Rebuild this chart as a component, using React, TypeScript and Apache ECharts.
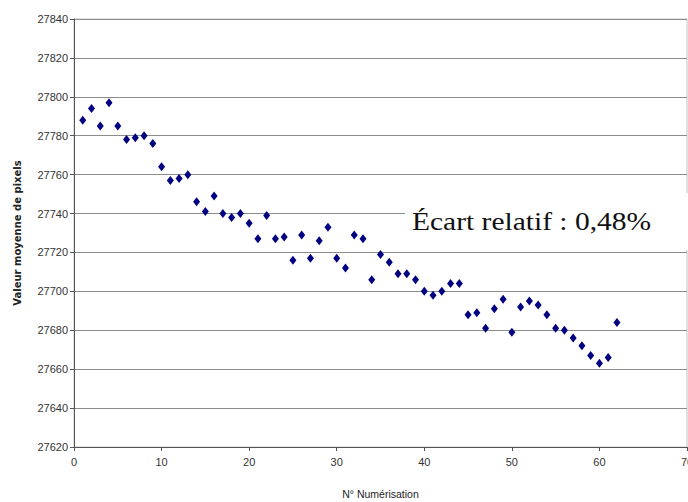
import React, { useEffect, useRef } from "react";
import * as echarts from "echarts";

const scanNumbers: number[] = Array.from({ length: 62 }, (_, i) => i + 1);
const meanValues: number[] = [
  27788, 27794, 27785, 27797, 27785, 27778, 27779, 27780, 27776, 27764,
  27757, 27758, 27760, 27746, 27741, 27749, 27740, 27738, 27740, 27735,
  27727, 27739, 27727, 27728, 27716, 27729, 27717, 27726, 27733, 27717,
  27712, 27729, 27727, 27706, 27719, 27715, 27709, 27709, 27706, 27700,
  27698, 27700, 27704, 27704, 27688, 27689, 27681, 27691, 27696, 27679,
  27692, 27695, 27693, 27688, 27681, 27680, 27676, 27672, 27667, 27663,
  27666, 27684,
];
const yTitle = "Valeur moyenne de pixels";
const xTitle = "N° Numérisation";
const note = "Écart relatif : 0,48%";

export default function App() {
  const ref = useRef<HTMLDivElement>(null);
  useEffect(() => {
    document.body.style.margin = "0";
    if (!ref.current) return;
    const chart = echarts.init(ref.current, undefined, { renderer: "svg" });
    const points = scanNumbers.map((n, i) => [n, meanValues[i]]);
    chart.setOption({
      animation: false,
      backgroundColor: "#ffffff",
      grid: {
        left: 74,
        right: 1,
        top: 19,
        bottom: 55,
        show: true,
        borderColor: "#c4c4c4",
        borderWidth: 1,
        containLabel: false,
        outerBoundsMode: "none",
      },
      xAxis: {
        type: "value",
        min: 0,
        max: 70,
        interval: 10,
        name: xTitle,
        nameLocation: "middle",
        nameGap: 41,
        nameTextStyle: { fontFamily: "Liberation Sans", fontSize: 10.5, color: "#222" },
        axisLine: { show: true, onZero: false, lineStyle: { color: "#555", width: 1 } },
        axisTick: { show: true, length: 4, lineStyle: { color: "#555" } },
        axisLabel: { fontFamily: "Liberation Sans", fontSize: 11, color: "#333", margin: 9 },
        splitLine: { show: false },
      },
      yAxis: {
        type: "value",
        min: 27620,
        max: 27840,
        interval: 20,
        name: yTitle,
        nameLocation: "middle",
        nameGap: 52,
        nameTextStyle: {
          fontFamily: "DejaVu Sans",
          fontWeight: "bold",
          fontSize: 10,
          color: "#222",
        },
        axisLine: { show: true, lineStyle: { color: "#555", width: 1 } },
        axisTick: { show: true, length: 4, lineStyle: { color: "#555" } },
        axisLabel: {
          fontFamily: "Liberation Sans",
          fontSize: 11,
          color: "#333",
          margin: 6,
          formatter: (v: number) => String(v),
        },
        splitLine: { show: true, lineStyle: { color: "#8c8c8c", width: 1 } },
      },
      series: [
        {
          type: "scatter",
          data: points,
          symbol: "diamond",
          symbolSize: [7, 9],
          itemStyle: { color: "#000080", opacity: 1 },
        },
      ],
      graphic: [
        {
          type: "rect",
          z: 100,
          shape: { x: 405, y: 193, width: 283, height: 57 },
          style: { fill: "#ffffff" },
        },
        {
          type: "text",
          z: 101,
          x: 412,
          y: 222,
          scaleX: 1.18,
          style: {
            text: note,
            fontFamily: "Liberation Serif",
            fontSize: 25,
            fill: "#111",
            verticalAlign: "middle",
            align: "left",
          },
        },
      ],
    });
    return () => chart.dispose();
  }, []);
  return <div ref={ref} style={{ width: 688, height: 502 }} />;
}
